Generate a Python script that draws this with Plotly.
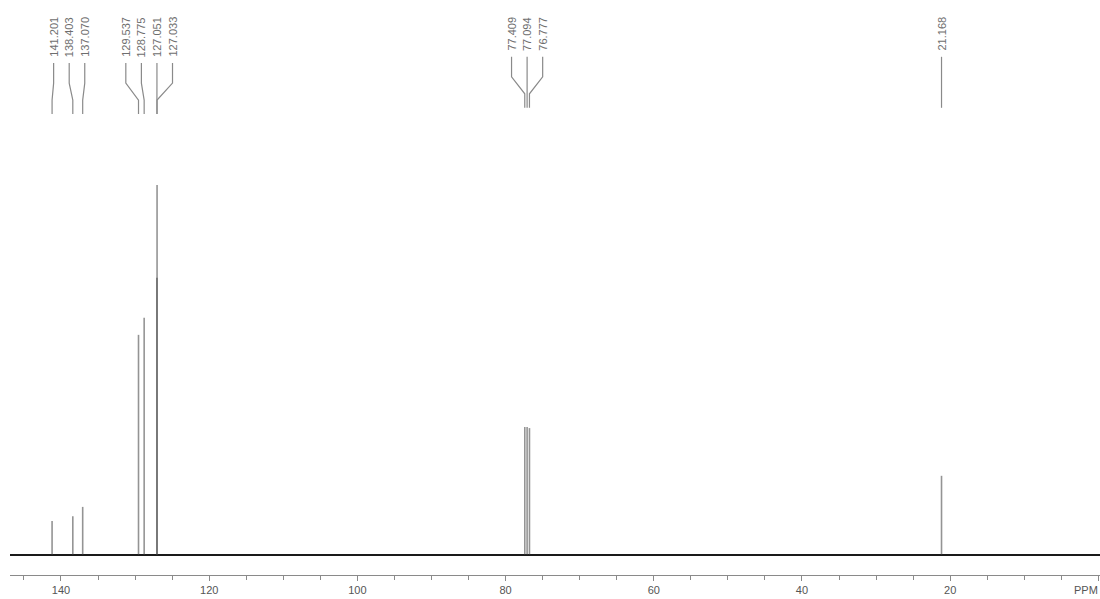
import plotly.graph_objects as go

# 13C NMR peak list (chemical shift in ppm, relative intensity in %)
shift_ppm = [141.201, 138.403, 137.070, 129.537, 128.775, 127.051, 127.033,
             77.409, 77.094, 76.777, 21.168]
intensity = [9.2, 10.5, 13.0, 59.5, 64.1, 74.9, 100.0,
             34.6, 34.6, 34.3, 21.4]
peak_labels = ["141.201", "138.403", "137.070", "129.537", "128.775", "127.051", "127.033",
               "77.409", "77.094", "76.777", "21.168"]

tick_values = [140, 120, 100, 80, 60, 40, 20, 0]
tick_labels = ["140", "120", "100", "80", "60", "40", "20", ""]
axis_unit = "PPM"

# ---- layout constants -------------------------------------------------------
W, H = 1100, 599
M_L, M_B = 10, 24
PLOT_H = H - M_B                      # plot area height in px
X_RANGE = [146.88, -0.22]             # reversed ppm axis
Y_RANGE = [-5.405, 150.0]
FONT = "Liberation Sans, Arial, sans-serif"

def paper_y(px):
    """Pixel row (from top) -> paper y coordinate."""
    return 1 - px / PLOT_H

fig = go.Figure()

# flat baseline of the spectrum
fig.add_trace(go.Scatter(
    x=[X_RANGE[0], X_RANGE[1]], y=[0, 0], mode="lines",
    line=dict(color="#1a1a1a", width=2), hoverinfo="skip", showlegend=False))

# peaks as thin vertical sticks (semi-transparent so overlaps darken)
px_, py_ = [], []
for s, h in zip(shift_ppm, intensity):
    px_ += [s, s, None]
    py_ += [0, h, None]
fig.add_trace(go.Scatter(
    x=px_, y=py_, mode="lines",
    line=dict(color="rgba(60,60,60,0.55)", width=1.6),
    hoverinfo="skip", showlegend=False))

# ---- peak labels with bent connector lines ---------------------------------
# cluster neighbouring peaks and spread their labels evenly around the group centre
groups, cur = [], [0]
for i in range(1, len(shift_ppm)):
    if shift_ppm[i - 1] - shift_ppm[i] < 4.0:
        cur.append(i)
    else:
        groups.append(cur)
        cur = [i]
groups.append(cur)

spacing = 2.1                         # ppm between adjacent labels
label_x = [0.0] * len(shift_ppm)
for g in groups:
    centre = sum(shift_ppm[i] for i in g) / len(g)
    n = len(g)
    for k, i in enumerate(g):
        label_x[i] = centre + ((n - 1) / 2 - k) * spacing

TEXT_TOP = 15
CHAR_PX = 6.3
shapes = []
annotations = []
for i, txt in enumerate(peak_labels):
    annotations.append(dict(
        x=label_x[i], xref="x", y=paper_y(TEXT_TOP), yref="paper",
        text=txt, textangle=-90, showarrow=False,
        xanchor="center", yanchor="top",
        font=dict(family=FONT, size=11, color="#6e6e6e")))
    y0 = TEXT_TOP + len(txt) * CHAR_PX + 4
    y1, y2, y3 = y0 + 20, y0 + 37, y0 + 51
    path = (f"M {label_x[i]},{paper_y(y0)} L {label_x[i]},{paper_y(y1)} "
            f"L {shift_ppm[i]},{paper_y(y2)} L {shift_ppm[i]},{paper_y(y3)}")
    shapes.append(dict(type="path", xref="x", yref="paper", path=path,
                       line=dict(color="#8a8a8a", width=1.2)))

# unit label at the right end of the axis
annotations.append(dict(
    x=1, xref="paper", y=paper_y(590), yref="paper",
    text=axis_unit, showarrow=False, xanchor="right", yanchor="middle",
    font=dict(family=FONT, size=11, color="#555555")))

fig.update_layout(
    width=W, height=H,
    margin=dict(l=M_L, r=0, t=0, b=M_B, pad=0, autoexpand=False),
    paper_bgcolor="white", plot_bgcolor="white",
    showlegend=False,
    shapes=shapes, annotations=annotations,
    xaxis=dict(
        range=X_RANGE, showgrid=False, zeroline=False, automargin=False,
        showline=True, linecolor="#8a8a8a", linewidth=1,
        ticks="outside", ticklen=5, tickcolor="#8a8a8a", tickwidth=1,
        tickvals=tick_values, ticktext=tick_labels,
        tickfont=dict(family=FONT, size=11, color="#555555"),
        minor=dict(dtick=5, tick0=0, ticks="outside", ticklen=4, tickcolor="#8a8a8a", showgrid=False),
    ),
    yaxis=dict(range=Y_RANGE, visible=False, showgrid=False, zeroline=False),
)

fig.write_html("out.html")
